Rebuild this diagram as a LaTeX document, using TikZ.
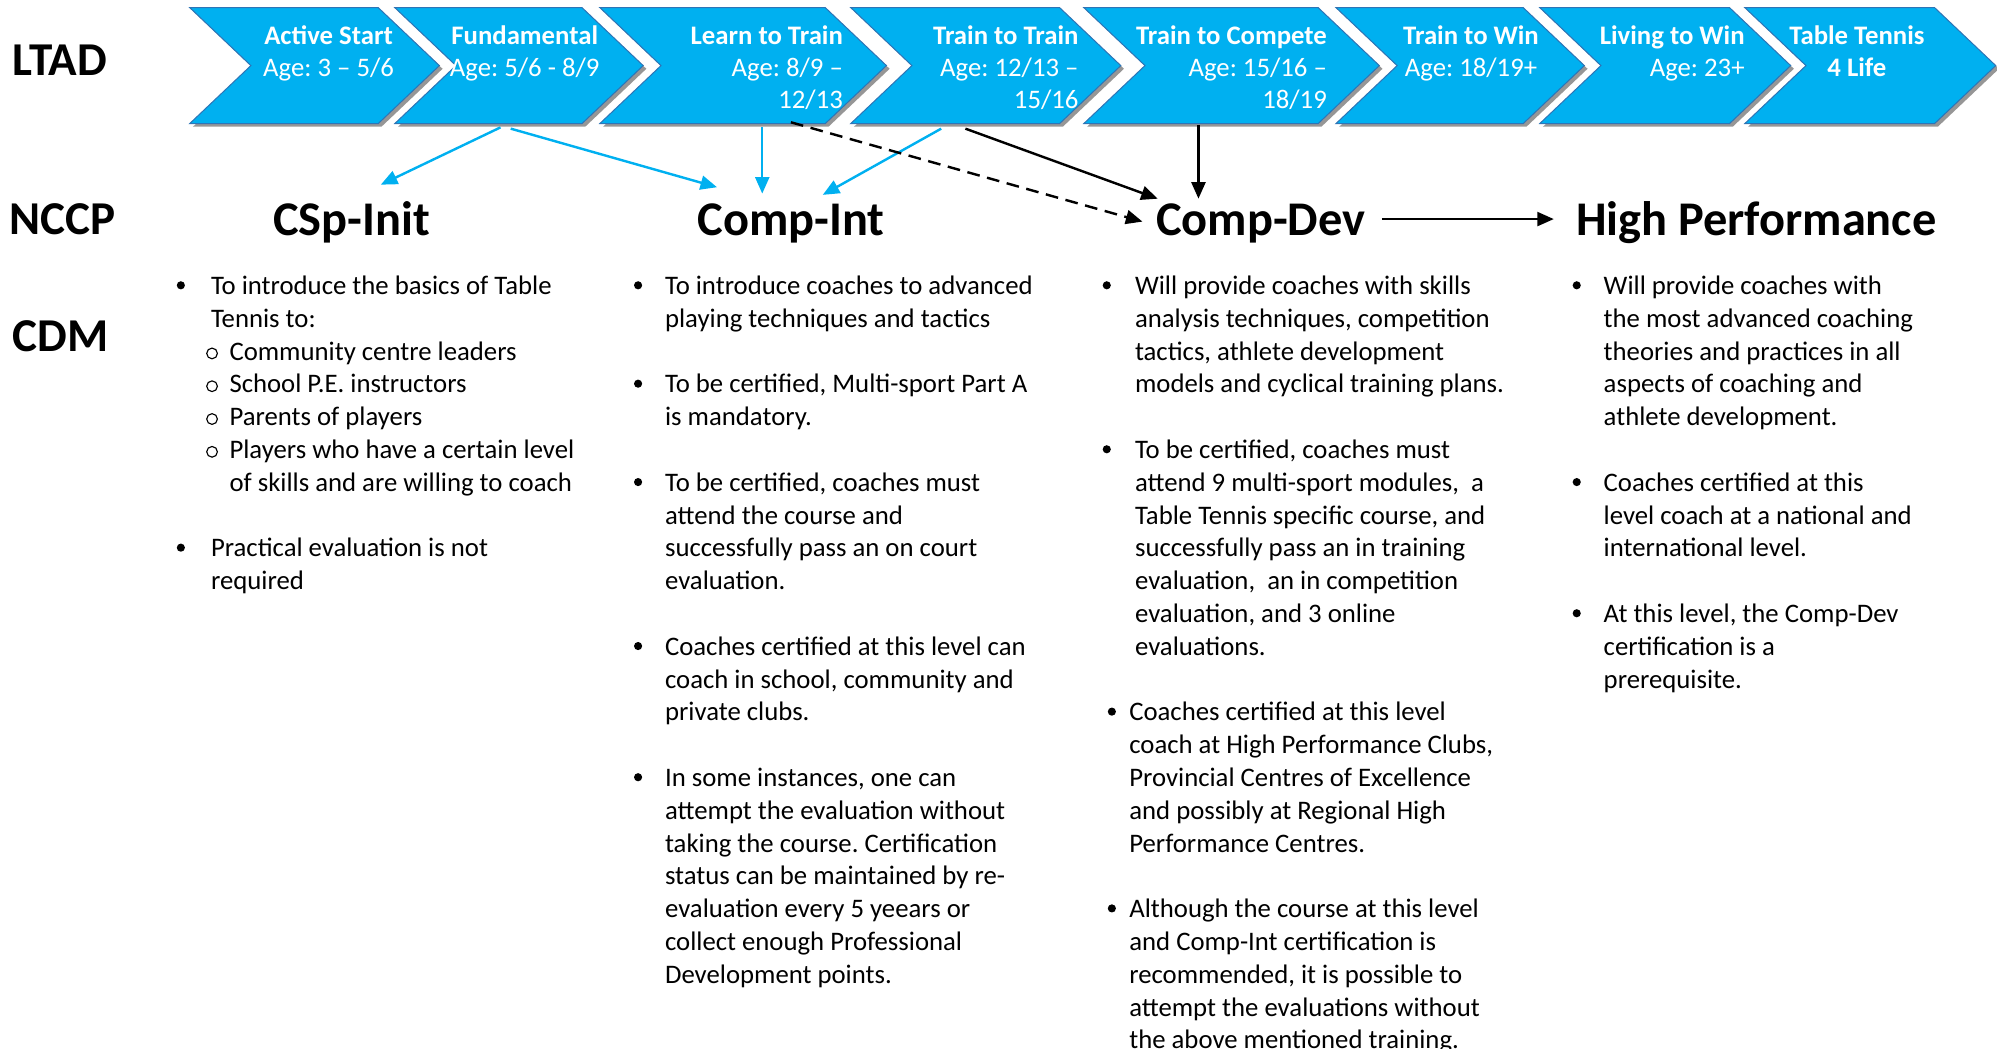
\documentclass[tikz,border=0pt]{standalone}
\usepackage{fontspec}
\setmainfont{Carlito}
\usetikzlibrary{arrows.meta}
\frenchspacing
\definecolor{chevblue}{RGB}{0,176,240}
\definecolor{chevedge}{RGB}{46,117,182}
\definecolor{shadowgray}{RGB}{150,150,150}
\tikzset{
  chev/.style={fill=chevblue, draw=chevedge, line width=0.8pt},
  chevshadow/.style={fill=shadowgray},
  chevtxt/.style={text=white, inner sep=0pt, font=\fontsize{21}{25}\selectfont},
  biglabel/.style={inner sep=0pt, anchor=base, font=\fontsize{37}{44}\selectfont\bfseries},
  headlabel/.style={inner sep=0pt, anchor=base, font=\fontsize{38}{46}\selectfont\bfseries},
  body/.style={inner sep=0pt, align=left, anchor=north west, font=\fontsize{21}{25.75}\selectfont},
  bluearr/.style={draw=chevblue, line width=1.9pt, -{Triangle[length=13pt,width=11pt]}},
  blackarr/.style={draw=black, line width=1.9pt, -{Triangle[length=13pt,width=11pt]}},
  bulletdot/.style={fill=black},
  subcircle/.style={draw=black, line width=0.9pt},
}
\begin{document}
\begin{tikzpicture}[x=1pt,y=-1pt]
\useasboundingbox (0,0) rectangle (1568,823);

% chevrons
\foreach \L/\R in {149/297,310/457,471/648,668/832,851/1035,1049/1196,1209/1358,1370/1519}{
  \fill[chevshadow, shift={(2.5,2.5)}] (\L,6) -- (\R,6) -- (\R+48,51.5) -- (\R,97) -- (\L,97) -- (\L+48,51.5) -- cycle;
  \draw[chev] (\L,6) -- (\R,6) -- (\R+48,51.5) -- (\R,97) -- (\L,97) -- (\L+48,51.5) -- cycle;
}

% chevron texts
\node[chevtxt, anchor=north, align=center] (t1) at (258,17.5) {\strut\textbf{Active Start}\\Age: 3 – 5/6};
\node[chevtxt, anchor=north, align=center] (t2) at (412,17.5) {\strut\textbf{Fundamental}\\Age: 5/6 - 8/9};
\node[chevtxt, anchor=north east, align=right] (t3) at (662,17.5) {\strut\textbf{Learn to Train}\\Age: 8/9 –\\12/13};
\node[chevtxt, anchor=north east, align=right] (t4) at (847,17.5) {\strut\textbf{Train to Train}\\Age: 12/13 –\\15/16};
\node[chevtxt, anchor=north east, align=right] (t5) at (1042,17.5) {\strut\textbf{Train to Compete}\\Age: 15/16 –\\18/19};
\node[chevtxt, anchor=north, align=center] (t6) at (1155,17.5) {\strut\textbf{Train to Win}\\Age: 18/19+};
\node[chevtxt, anchor=north east, align=right] (t7) at (1370,17.5) {\strut\textbf{Living to Win}\\Age: 23+};
\node[chevtxt, anchor=north, align=center] (t8) at (1458,17.5) {\strut\textbf{Table Tennis}\\\textbf{4 Life}};

% row labels
\node[biglabel] (ltad) at (47,59) {LTAD};
\node[biglabel] (nccp) at (49,184.5) {NCCP};
\node[biglabel] (cdm) at (47.5,276) {CDM};

% level headers
\node[headlabel] (csp) at (276,185) {CSp-Init};
\node[headlabel] (cint) at (621,185) {Comp-Int};
\node[headlabel] (cdev) at (990,185) {Comp-Dev};
\node[headlabel] (hp) at (1379,185) {High Performance};

% connector end points
\coordinate (fa) at (393,100);
\coordinate (fb) at (401,101);
\coordinate (la) at (598.5,100);
\coordinate (lb) at (621,96);
\coordinate (ta) at (739,101);
\coordinate (tb) at (758,101);
\coordinate (ca) at (941,98);
\coordinate (e1) at (299,145);
\coordinate (e2) at (563,147);
\coordinate (e3) at (598.5,152);
\coordinate (e4) at (646,153);
\coordinate (e5) at (897,174);
\coordinate (e6) at (909,156);
\coordinate (e7) at (941,156);
\coordinate (hs) at (1085,172);
\coordinate (he) at (1220,172);

\draw[bluearr] (fa) -- (e1);
\draw[bluearr] (fb) -- (e2);
\draw[bluearr] (la) -- (e3);
\draw[bluearr] (ta) -- (e4);
\draw[blackarr, dash pattern=on 10pt off 6pt] (lb) -- (e5);
\draw[blackarr] (tb) -- (e6);
\draw[blackarr] (ca) -- (e7);
\draw[blackarr] (hs) -- (he);

% column 1
\node[body] (col1) at (165.5,213) {\strut To introduce the basics of Table\\
Tennis to:\\
\hspace*{14.5pt}Community centre leaders\\
\hspace*{14.5pt}School P.E. instructors\\
\hspace*{14.5pt}Parents of players\\
\hspace*{14.5pt}Players who have a certain level\\
\hspace*{14.5pt}of skills and are willing to coach\\
\mbox{}\\
Practical evaluation is not\\
required};
\foreach \r in {0,8} \fill[bulletdot] (142,224+\r*25.75) circle (3.2pt);
\foreach \r in {2,...,5} \draw[subcircle] (166.5,226+\r*25.75) circle (4.2pt);

% column 2
\node[body] (col2) at (522,213) {\strut To introduce coaches to advanced\\
playing techniques and tactics\\
\mbox{}\\
To be certified, Multi-sport Part A\\
is mandatory.\\
\mbox{}\\
To be certified, coaches must\\
attend the course and\\
successfully pass an on court\\
evaluation.\\
\mbox{}\\
Coaches certified at this level can\\
coach in school, community and\\
private clubs.\\
\mbox{}\\
In some instances, one can\\
attempt the evaluation without\\
taking the course. Certification\\
status can be maintained by re-\\
evaluation every 5 yeears or\\
collect enough Professional\\
Development points.};
\foreach \r in {0,3,6,11,15} \fill[bulletdot] (501,224+\r*25.75) circle (3.2pt);

% column 3
\node[body] (col3a) at (891,213) {\strut Will provide coaches with skills\\
analysis techniques, competition\\
tactics, athlete development\\
models and cyclical training plans.\\
\mbox{}\\
To be certified, coaches must\\
attend 9 multi-sport modules,\ \ a\\
Table Tennis specific course, and\\
successfully pass an in training\\
evaluation,\ \ an in competition\\
evaluation, and 3 online\\
evaluations.};
\foreach \r in {0,5} \fill[bulletdot] (869,224+\r*25.75) circle (3.2pt);
\node[body] (col3b) at (886.5,547.75) {\strut Coaches certified at this level\\
coach at High Performance Clubs,\\
Provincial Centres of Excellence\\
and possibly at Regional High\\
Performance Centres.\\
\mbox{}\\
Although the course at this level\\
and Comp-Int certification is\\
recommended, it is possible to\\
attempt the evaluations without\\
the above mentioned training.};
\foreach \r in {13,19} \fill[bulletdot] (873,224+\r*25.75) circle (3.2pt);

% column 4
\node[body] (col4) at (1259,213) {\strut Will provide coaches with\\
the most advanced coaching\\
theories and practices in all\\
aspects of coaching and\\
athlete development.\\
\mbox{}\\
Coaches certified at this\\
level coach at a national and\\
international level.\\
\mbox{}\\
At this level, the Comp-Dev\\
certification is a\\
prerequisite.};
\foreach \r in {0,6,10} \fill[bulletdot] (1238,224+\r*25.75) circle (3.2pt);
\end{tikzpicture}
\end{document}
